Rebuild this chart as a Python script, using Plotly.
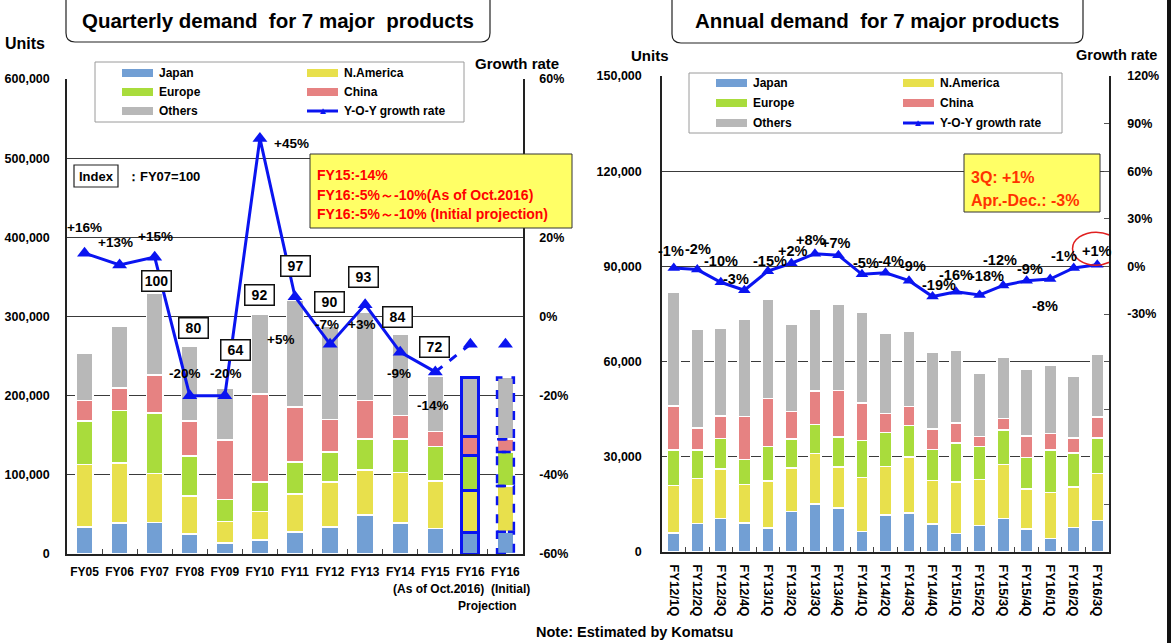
import plotly.graph_objects as go

# ---------------- data: left chart (fiscal years, units) ----------------
fy_cats = ["FY05", "FY06", "FY07", "FY08", "FY09", "FY10", "FY11", "FY12",
           "FY13", "FY14", "FY15", "FY16", "FY16 initial"]
fy_ticktext = ["FY05", "FY06", "FY07", "FY08", "FY09", "FY10", "FY11", "FY12",
               "FY13", "FY14", "FY15", "FY16", "FY16"]
fy_japan = [34000, 39000, 40000, 25000, 14000, 18000, 28000, 34000, 49000, 39000, 32000, 27000, 28000]
fy_namerica = [79000, 76000, 62000, 48000, 27000, 36000, 48000, 57000, 57000, 64000, 60000, 53000, 58000]
fy_europe = [55000, 66000, 76000, 51000, 28000, 37000, 40000, 38000, 39000, 42000, 44000, 45000, 43000]
fy_china = [26000, 29000, 48000, 44000, 75000, 111000, 70000, 41000, 49000, 30000, 19000, 24000, 16000]
fy_others = [59000, 78000, 103000, 94000, 65000, 101000, 134000, 118000, 112000, 102000, 69000, 74000, 78000]
fy_growth = [16, 13, 15, -20, -20, 45, 5, -7, 3, -9, -14]          # actual Y-O-Y %
fy_growth_proj = [-7, -7]                                           # FY16 projections
fy_growth_labels = ["+16%", "+13%", "+15%", "-20%", "-20%", "+45%", "+5%", "-7%", "+3%", "-9%", "-14%"]
fy_index = [None, None, 100, 80, 64, 92, 97, 90, 93, 84, 72, None, None]   # FY07=100

# ---------------- data: right chart (quarters, units) ----------------
q_cats = ["FY12/1Q", "FY12/2Q", "FY12/3Q", "FY12/4Q", "FY13/1Q", "FY13/2Q", "FY13/3Q",
          "FY13/4Q", "FY14/1Q", "FY14/2Q", "FY14/3Q", "FY14/4Q", "FY15/1Q", "FY15/2Q",
          "FY15/3Q", "FY15/4Q", "FY16/1Q", "FY16/2Q", "FY16/3Q"]
q_japan = [6000, 9000, 10600, 9100, 7600, 12700, 15100, 13800, 6400, 11600, 12300, 8800,
           5800, 8300, 10600, 7200, 4300, 7700, 10000]
q_namerica = [15000, 14100, 15600, 12200, 14800, 13700, 15900, 13000, 17000, 15400, 17700,
              13700, 16200, 14500, 16900, 12600, 14500, 12800, 14800]
q_europe = [11200, 9100, 9500, 7900, 10800, 9200, 9200, 9400, 11800, 10600, 9900, 9800,
            12300, 10500, 11000, 10000, 13300, 10700, 11200]
q_china = [13800, 6800, 7100, 13500, 15100, 8600, 10500, 14700, 11800, 6000, 6000, 6400,
           6300, 3100, 3500, 6700, 5200, 4700, 6500]
q_others = [35800, 31300, 27700, 30500, 31300, 27500, 25900, 27200, 28700, 25200, 23600,
            24300, 22900, 19800, 19400, 21100, 21400, 19500, 19700]
q_growth = [-1, -2, -10, -15, -3, 2, 8, 7, -5, -4, -9, -19, -16, -18, -12, -9, -8, -1, 1]
q_growth_labels = ["-1%", "-2%", "-10%", "-3%", "-15%", "+2%", "+8%", "+7%", "-5%", "-4%",
                   "-9%", "-19%", "-16%", "-18%", "-12%", "-9%", "-8%", "-1%", "+1%"]

series_names = ["Japan", "N.America", "Europe", "China", "Others"]
left_series = [fy_japan, fy_namerica, fy_europe, fy_china, fy_others]
right_series = [q_japan, q_namerica, q_europe, q_china, q_others]

# ---------------- styling / layout positions ----------------
W, H = 1171, 643
FONT = "Liberation Sans, Arial, sans-serif"
colors = ["#729fd4", "#e8e04c", "#a9dc3c", "#e68282", "#b8b8b8"]
BLUE = "#0a14f0"
GRID = "#3a3a3a"


def px(x):
    return x / W


def py(y):
    return 1 - y / H


L_X0, L_X1, L_Y0, L_Y1 = 67, 523, 79, 554
R_X0, R_X1, R_Y0, R_Y1 = 662, 1109, 76, 552
L_BW, R_BW = 0.48, 0.52

# label placements (category-index offset, axis value)
fy_glabel_pos = [(0.0, 22.6), (0.87, 18.8), (2.01, 20.3), (2.87, -14.5), (4.04, -14.5),
                 (5.9, 43.8), (5.59, -5.9), (6.9, -2.1), (7.9, -2.1), (8.96, -14.3), (9.93, -22.6)]
fy_index_pos = [None, None, (2.04, 344800), (3.1, 285500), (4.3, 257700), (4.99, 327000),
                (6.01, 363800), (6.99, 318300), (7.96, 349900), (8.93, 299400), (9.99, 261500), None, None]
q_glabel_pos = [(-0.12, 9.5), (1.03, 11.1), (2.01, 3.2), (2.65, -7.8), (4.1, 3.2), (5.07, 9.5),
                (5.84, 16.4), (6.9, 14.9), (8.18, 2.1), (9.24, 3.2), (10.18, 0.2), (11.29, -12.0),
                (12.01, -5.7), (13.33, -6.3), (13.88, 3.8), (15.16, -1.5), (15.76, -25.0),
                (16.6, 6.7), (17.97, 9.8)]

fig = go.Figure()

# ---- stacked bars ----
n_left = len(fy_cats)
proj_i = fy_cats.index("FY16")
for name, lv, rv, col in zip(series_names, left_series, right_series, colors):
    lc = [BLUE if i == proj_i else "white" for i in range(n_left)]
    lw = [3 if i == proj_i else 1.5 for i in range(n_left)]
    fig.add_trace(go.Bar(x=fy_cats, y=lv, name=name, width=L_BW,
                         marker=dict(color=col, line=dict(color=lc, width=lw)),
                         xaxis="x", yaxis="y", showlegend=False))
    fig.add_trace(go.Bar(x=q_cats, y=rv, name=name, width=R_BW,
                         marker=dict(color=col, line=dict(color="white", width=1.5)),
                         xaxis="x2", yaxis="y3", showlegend=False))

# ---- growth lines ----
n_act = len(fy_growth)
fig.add_trace(go.Scatter(x=fy_cats[:n_act], y=fy_growth, mode="lines+markers",
                         line=dict(color=BLUE, width=3),
                         marker=dict(symbol="triangle-up", size=13, color=BLUE),
                         xaxis="x", yaxis="y2", showlegend=False))
fig.add_trace(go.Scatter(x=[fy_cats[n_act - 1], fy_cats[n_act]],
                         y=[fy_growth[-1], fy_growth_proj[0]], mode="lines",
                         line=dict(color=BLUE, width=3, dash="dash"),
                         xaxis="x", yaxis="y2", showlegend=False))
fig.add_trace(go.Scatter(x=fy_cats[n_act:], y=fy_growth_proj, mode="markers",
                         marker=dict(symbol="triangle-up", size=13, color=BLUE),
                         xaxis="x", yaxis="y2", showlegend=False))
fig.add_trace(go.Scatter(x=q_cats, y=q_growth, mode="lines+markers",
                         line=dict(color=BLUE, width=3),
                         marker=dict(symbol="triangle-up", size=11, color=BLUE),
                         xaxis="x2", yaxis="y4", showlegend=False))

shapes = []
annotations = []

# dashed outline of the initial projection bar, built from the stacked values
ini = len(fy_cats) - 1
base = 0
for vals in left_series:
    v = vals[ini]
    shapes.append(dict(type="rect", xref="x", yref="y", x0=ini - L_BW / 2, x1=ini + L_BW / 2,
                       y0=base, y1=base + v, line=dict(color=BLUE, width=2.5, dash="dash"),
                       layer="above"))
    base += v


def txt(x, y, text, size=14, color="black", xanchor="center", yanchor="middle", **kw):
    d = dict(xref="paper", yref="paper", x=px(x), y=py(y), text=text, showarrow=False,
             xanchor=xanchor, yanchor=yanchor, font=dict(family=FONT, size=size, color=color))
    d.update(kw)
    annotations.append(d)


# ---- title boxes (top edge runs off the slide) ----
for (x0, x1, y1, title) in [(66, 490, 42, "<b>Quarterly demand  for 7 major  products</b>"),
                            (672, 1083, 43, "<b>Annual demand  for 7 major products</b>")]:
    r = 9
    X0, X1, Y0, Y1 = px(x0), px(x1), 1.0, py(y1)
    rx, ry = r / W, r / H
    path = (f"M {X0},{Y0} L {X0},{Y1 + ry} Q {X0},{Y1} {X0 + rx},{Y1} "
            f"L {X1 - rx},{Y1} Q {X1},{Y1} {X1},{Y1 + ry} L {X1},{Y0}")
    shapes.append(dict(type="path", xref="paper", yref="paper", path=path,
                       line=dict(color="#222", width=1.2), fillcolor="white"))
    txt((x0 + x1) / 2, 21, title, size=20.5)

# right frame edge of the original slide
shapes.append(dict(type="rect", xref="paper", yref="paper", x0=px(1167), x1=1, y0=0, y1=1,
                   line=dict(width=0), fillcolor="#111"))

# ---- axis captions ----
txt(25, 43, "<b>Units</b>", 16)
txt(517, 64, "<b>Growth rate</b>", 15)
txt(650, 55, "<b>Units</b>", 15)
txt(1116, 55, "<b>Growth rate</b>", 14.5)
txt(634, 632, "<b>Note: Estimated by Komatsu</b>", 14.5)

# second-line category captions for the FY16 bars
txt(486, 589, "<b>(As of Oct.2016)</b>", 12, xanchor="right")
txt(510, 589, "<b>(Initial)</b>", 12)
txt(487, 606, "<b>Projection</b>", 12)


# ---- manual legends ----
def legend(x0, x1, y0, y1, sw_l, sw_r, rows):
    shapes.append(dict(type="rect", xref="paper", yref="paper", x0=px(x0), x1=px(x1),
                       y0=py(y1), y1=py(y0), line=dict(color="#9a9a9a", width=1),
                       fillcolor="white"))
    entries = [(series_names[0], colors[0], 0, 0), (series_names[1], colors[1], 1, 0),
               (series_names[2], colors[2], 0, 1), (series_names[3], colors[3], 1, 1),
               (series_names[4], colors[4], 0, 2), ("Y-O-Y growth rate", None, 1, 2)]
    for name, col, c, r in entries:
        sx = sw_l if c == 0 else sw_r
        yy = rows[r]
        if col is not None:
            shapes.append(dict(type="rect", xref="paper", yref="paper", x0=px(sx),
                               x1=px(sx + 31), y0=py(yy + 4), y1=py(yy - 4),
                               line=dict(width=0), fillcolor=col))
        else:
            shapes.append(dict(type="line", xref="paper", yref="paper", x0=px(sx),
                               x1=px(sx + 31), y0=py(yy), y1=py(yy),
                               line=dict(color=BLUE, width=3)))
            txt(sx + 15.5, yy - 1, "▲", 10, BLUE)
        txt(sx + 35, yy, f"<b>{name}</b>", 12, xanchor="left")


legend(95, 464, 62, 122, 122, 307, [73, 92, 111])
legend(689, 1062, 73, 133, 716, 903, [83, 103, 123])

# ---- yellow notice boxes ----
shapes.append(dict(type="rect", xref="paper", yref="paper", x0=px(310), x1=px(572),
                   y0=py(228), y1=py(154), line=dict(color="#333", width=1),
                   fillcolor="#ffff66"))
txt(315, 175, "<b>FY15:-14%</b>", 14, "#ff0000", xanchor="left")
txt(315, 195, "<b>FY16:-5%～-10%(As of Oct.2016)</b>", 14, "#ff0000", xanchor="left")
txt(315, 214, "<b>FY16:-5%～-10% (Initial projection)</b>", 14, "#ff0000", xanchor="left")

shapes.append(dict(type="rect", xref="paper", yref="paper", x0=px(964), x1=px(1100),
                   y0=py(212), y1=py(154), line=dict(color="#333", width=1),
                   fillcolor="#ffff66"))
txt(969, 178, "<b>3Q: +1%</b>", 16, "#ff3300", xanchor="left")
txt(969, 200, "<b>Apr.-Dec.: -3%</b>", 16, "#ff3300", xanchor="left")

# ---- index box ----
shapes.append(dict(type="rect", xref="paper", yref="paper", x0=px(74), x1=px(118),
                   y0=py(187), y1=py(165), line=dict(color="#222", width=1.2),
                   fillcolor="white"))
txt(96, 176, "<b>Index</b>", 13)
txt(125, 176, "<b>：FY07=100</b>", 13, xanchor="left")

# ---- data labels, left chart ----
for lab, (dx, yv) in zip(fy_growth_labels, fy_glabel_pos):
    annotations.append(dict(xref="x", yref="y2", x=dx, y=yv, text=f"<b>{lab}</b>",
                            showarrow=False, font=dict(family=FONT, size=13.5, color="black")))
for val, pos in zip(fy_index, fy_index_pos):
    if val is None:
        continue
    annotations.append(dict(xref="x", yref="y", x=pos[0], y=pos[1], text=f"<b>{val}</b>",
                            showarrow=False, bgcolor="white", bordercolor="#111",
                            borderwidth=1.5, borderpad=2, width=24, height=15,
                            font=dict(family=FONT, size=14, color="black")))

# ---- data labels, right chart ----
for lab, (dx, yv) in zip(q_growth_labels, q_glabel_pos):
    annotations.append(dict(xref="x2", yref="y4", x=dx, y=yv, text=f"<b>{lab}</b>",
                            showarrow=False, font=dict(family=FONT, size=14.5, color="black")))

# red circle round the latest quarter label
last = len(q_cats) - 1
shapes.append(dict(type="circle", xref="x2", yref="y4", x0=last - 1.05, x1=last + 0.95,
                   y0=0.8, y1=21.6, line=dict(color="#e02020", width=1.5), layer="above"))

tickfont = dict(family=FONT, size=12.5, color="black")
xfont = dict(family=FONT, size=12, color="black")
qfont = dict(family=FONT, size=13, color="black")

q_pct_vals = list(range(-180, 121, 30))
q_pct_text = [f"{v}%" if v >= -30 else "" for v in q_pct_vals]
fy_pct_vals = list(range(-60, 61, 20))

fig.update_layout(
    width=W, height=H, margin=dict(l=0, r=0, t=0, b=0, pad=0, autoexpand=False),
    paper_bgcolor="white", plot_bgcolor="white", barmode="stack",
    font=dict(family=FONT, color="black"), showlegend=False,
    xaxis=dict(domain=[px(L_X0), px(L_X1)], anchor="y", type="category",
               categoryorder="array", categoryarray=fy_cats, range=[-0.5, len(fy_cats) - 0.5],
               tickvals=fy_cats, ticktext=[f"<b>{t}</b>" for t in fy_ticktext], tickangle=0,
               showline=True, linecolor="#222", linewidth=1.5, ticks="inside",
               tickson="boundaries", ticklen=5, tickcolor="#444", tickfont=xfont,
               ticklabelstandoff=6, automargin=False),
    yaxis=dict(domain=[py(L_Y1), py(L_Y0)], anchor="x", range=[0, 600000],
               tickvals=list(range(0, 600001, 100000)),
               ticktext=[f"<b>{v:,}</b>" for v in range(0, 600001, 100000)],
               showgrid=True, gridcolor=GRID, gridwidth=1, showline=True, linecolor="#222",
               linewidth=1.5, zeroline=False, tickfont=tickfont, ticklabelstandoff=13,
               automargin=False),
    yaxis2=dict(overlaying="y", anchor="x", side="right", range=[-60, 60],
                tickvals=fy_pct_vals, ticktext=[f"<b>{v}%</b>" for v in fy_pct_vals],
                showgrid=False, zeroline=False, showline=True, linecolor="#222",
                linewidth=1.5, tickfont=tickfont, ticklabelstandoff=12, automargin=False),
    xaxis2=dict(domain=[px(R_X0), px(R_X1)], anchor="y3", type="category",
                categoryorder="array", categoryarray=q_cats, range=[-0.5, len(q_cats) - 0.5],
                tickvals=q_cats, ticktext=[f"<b>{t}</b>" for t in q_cats], tickangle=90,
                showline=True, linecolor="#222", linewidth=1.5, ticks="inside",
                tickson="boundaries", ticklen=5, tickcolor="#444", tickfont=qfont,
                ticklabelstandoff=8, automargin=False),
    yaxis3=dict(domain=[py(R_Y1), py(R_Y0)], anchor="x2", range=[0, 150000],
                tickvals=list(range(0, 150001, 30000)),
                ticktext=[f"<b>{v:,}</b>" for v in range(0, 150001, 30000)],
                showgrid=True, gridcolor=GRID, gridwidth=1, showline=True, linecolor="#222",
                linewidth=1.5, zeroline=False, tickfont=tickfont, ticklabelstandoff=16,
                automargin=False),
    yaxis4=dict(overlaying="y3", anchor="x2", side="right", range=[-180, 120],
                tickvals=q_pct_vals, ticktext=[f"<b>{t}</b>" if t else "" for t in q_pct_text],
                showgrid=False, zeroline=False, showline=True, linecolor="#222",
                linewidth=1.5, ticks="inside", ticklen=5, tickcolor="#555",
                tickfont=tickfont, ticklabelstandoff=14, automargin=False),
    shapes=shapes, annotations=annotations,
)

page_fix = ("var s=document.documentElement.style;s.margin='0';s.padding='0';s.overflow='hidden';"
            "var b=document.body.style;b.margin='0';b.padding='0';b.overflow='hidden';"
            "window.scrollTo(0,0);")
fig.write_html("out.html", config={"displayModeBar": False}, post_script=page_fix)
